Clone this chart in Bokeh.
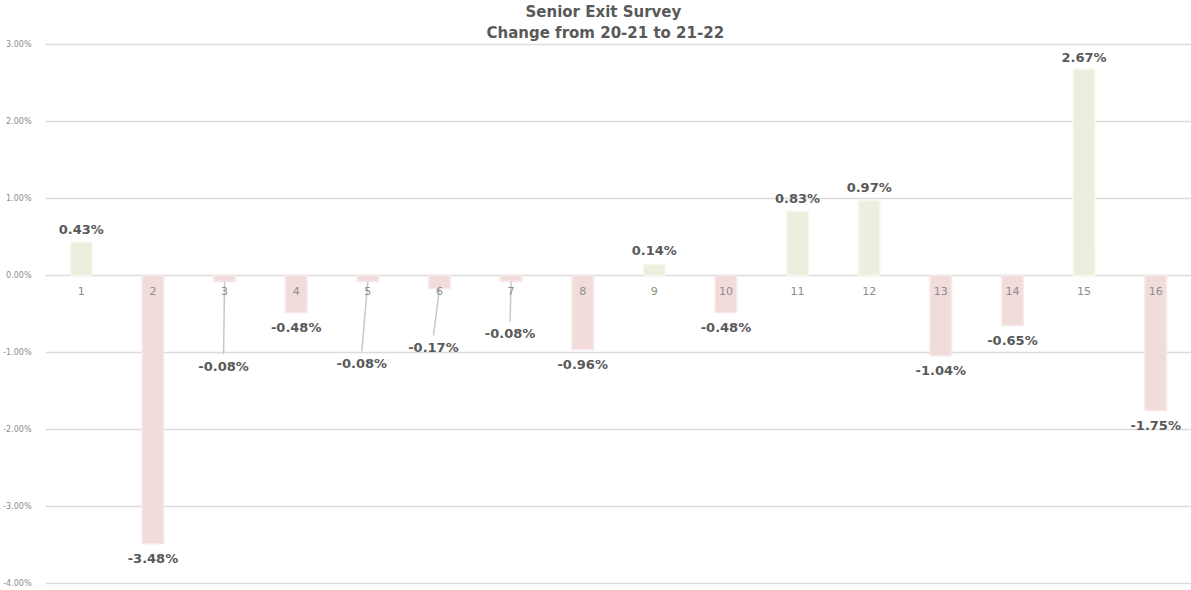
from bokeh.plotting import figure
from bokeh.models import ColumnDataSource, Title, FixedTicker
from bokeh.core.properties import value
from bokeh.embed import file_html
from bokeh.resources import INLINE

# ---- data ----
categories = [str(i) for i in range(1, 17)]
changes = [0.43, -3.48, -0.08, -0.48, -0.08, -0.17, -0.08, -0.96,
           0.14, -0.48, 0.83, 0.97, -1.04, -0.65, 2.67, -1.75]
y_ticks = [-4, -3, -2, -1, 0, 1, 2, 3]
title_main = "Senior Exit Survey"
title_sub = "Change from 20-21 to 21-22"

# ---- style ----
W, H = 1191, 590
LEFT, TOP, BOTTOM = 42, 40, 5
Y_LO, Y_HI = -4.02, 3.02
label_gap_px = [13, 15, 85, 15, 82, 59, 52, 15, 14, 15, 13, 13, 15, 15, 12, 15]
label_shift_px = [0, 0, -1, 0, -6, -6, -1, 0, 0, 0, 0, 0, 0, 0, 0, 0]
POS_FILL, POS_LINE = "#ebf0de", "#f4f7ec"
NEG_FILL, NEG_LINE = "#f2dcdb", "#f7e9e8"
TEXT_DARK = "#595959"
TEXT_LIGHT = "#8c8c8c"
FONT = "DejaVu Sans"
TITLE_MAIN_OFFSET, TITLE_SUB_OFFSET = 480, 441

n = len(changes)
xs = list(range(1, n + 1))
ppy = (H - TOP - BOTTOM) / (Y_HI - Y_LO)
ppx = (W - LEFT) / n

p = figure(width=W, height=H, x_range=(0.5, n + 0.5), y_range=(Y_LO, Y_HI),
           output_backend="svg", toolbar_location=None, x_axis_location=None,
           min_border_left=LEFT, min_border_right=0, min_border_top=TOP,
           min_border_bottom=BOTTOM)
p.outline_line_color = None
p.xgrid.grid_line_color = None
p.ygrid.grid_line_color = "#dcdcdc"
p.ygrid.grid_line_width = 1.5
p.yaxis.ticker = FixedTicker(ticks=y_ticks)
p.yaxis.major_label_overrides = {t: f"{t:.2f}%" for t in y_ticks}
p.yaxis.axis_line_color = None
p.yaxis.major_tick_line_color = None
p.yaxis.minor_tick_line_color = None
p.yaxis.major_label_text_font_size = "8px"
p.yaxis.major_label_text_color = TEXT_LIGHT
p.yaxis.major_label_text_font = FONT
p.yaxis.major_label_standoff = 8

p.add_layout(Title(text=title_sub, align="left", offset=TITLE_SUB_OFFSET,
                   text_font_size="15px", text_font_style="bold",
                   text_color=TEXT_DARK, text_font=FONT, standoff=2), "above")
p.add_layout(Title(text=title_main, align="left", offset=TITLE_MAIN_OFFSET,
                   text_font_size="15px", text_font_style="bold",
                   text_color=TEXT_DARK, text_font=FONT, standoff=0), "above")

fills = [POS_FILL if v >= 0 else NEG_FILL for v in changes]
lines = [POS_LINE if v >= 0 else NEG_LINE for v in changes]
src = ColumnDataSource(dict(x=xs, top=changes, fill=fills, line=lines, cat=categories,
                            label=[f"{v:.2f}%" for v in changes],
                            yoff=[g if v < 0 else -g for g, v in zip(label_gap_px, changes)],
                            xoff=label_shift_px))
p.vbar(x="x", top="top", bottom=0, width=0.3, fill_color="fill", line_color="line",
       line_width=1.5, source=src)

# leader lines for pushed-down labels
lx0, ly0, lx1, ly1 = [], [], [], []
for x, v, g, s in zip(xs, changes, label_gap_px, label_shift_px):
    if g > 30:
        lx0.append(x)
        ly0.append(v)
        lx1.append(x + s / ppx)
        ly1.append(v - (g - 12) / ppy)
p.segment(x0=lx0, y0=ly0, x1=lx1, y1=ly1, line_color="#c8c8c8", line_width=1.5)

# category labels at the zero line
p.text(x="x", y=0, text="cat", source=src, y_offset=16, text_align="center",
       text_baseline="middle", text_font_size="11px", text_color=TEXT_LIGHT,
       text_font=value(FONT))

# value labels
p.text(x="x", y="top", text="label", source=src, x_offset="xoff", y_offset="yoff",
       text_align="center", text_baseline="middle", text_font_size="13px",
       text_font_style="bold", text_color=TEXT_DARK, text_font=value(FONT))

open("out.html", "w").write(file_html(p, INLINE))
